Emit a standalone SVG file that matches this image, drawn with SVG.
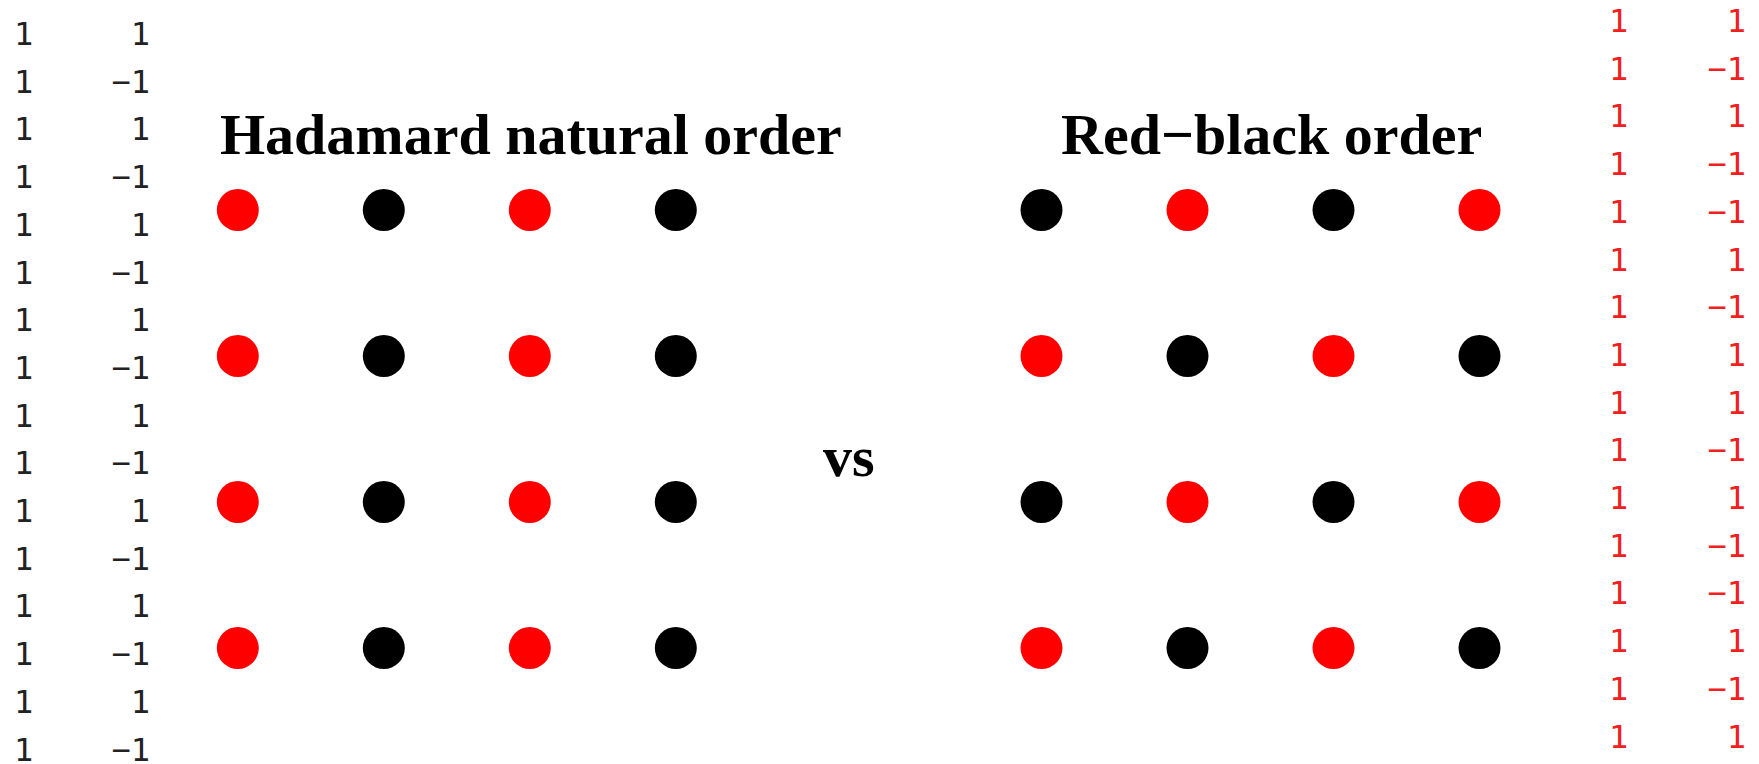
<svg xmlns="http://www.w3.org/2000/svg" width="1759" height="764" viewBox="0 0 1759 764">
<style>
.num{font-family:"DejaVu Sans Mono","Liberation Mono",monospace;font-size:32px;fill:#222;}
.rnum{font-family:"DejaVu Sans Mono","Liberation Mono",monospace;font-size:32px;fill:#f02020;}
.c{text-anchor:middle}
.e{text-anchor:end}
.title{font-family:"Liberation Serif","Times New Roman",serif;font-weight:bold;font-size:58px;fill:#000;}
.r{fill:#ff0000}
.k{fill:#000}
</style>
<rect width="1759" height="764" fill="#fff"/>
<g id="left-matrix">
<text class="num c" x="23.7" y="45">1</text><text class="num e" x="150" y="45">1</text>
<text class="num c" x="23.7" y="92.7">1</text><text class="num e" x="150" y="92.7">−1</text>
<text class="num c" x="23.7" y="140.4">1</text><text class="num e" x="150" y="140.4">1</text>
<text class="num c" x="23.7" y="188.1">1</text><text class="num e" x="150" y="188.1">−1</text>
<text class="num c" x="23.7" y="235.8">1</text><text class="num e" x="150" y="235.8">1</text>
<text class="num c" x="23.7" y="283.5">1</text><text class="num e" x="150" y="283.5">−1</text>
<text class="num c" x="23.7" y="331.2">1</text><text class="num e" x="150" y="331.2">1</text>
<text class="num c" x="23.7" y="378.9">1</text><text class="num e" x="150" y="378.9">−1</text>
<text class="num c" x="23.7" y="426.6">1</text><text class="num e" x="150" y="426.6">1</text>
<text class="num c" x="23.7" y="474.3">1</text><text class="num e" x="150" y="474.3">−1</text>
<text class="num c" x="23.7" y="522">1</text><text class="num e" x="150" y="522">1</text>
<text class="num c" x="23.7" y="569.7">1</text><text class="num e" x="150" y="569.7">−1</text>
<text class="num c" x="23.7" y="617.4">1</text><text class="num e" x="150" y="617.4">1</text>
<text class="num c" x="23.7" y="665.1">1</text><text class="num e" x="150" y="665.1">−1</text>
<text class="num c" x="23.7" y="712.8">1</text><text class="num e" x="150" y="712.8">1</text>
<text class="num c" x="23.7" y="760.5">1</text><text class="num e" x="150" y="760.5">−1</text>
</g>
<g id="right-matrix">
<text class="rnum c" x="1618.7" y="32">1</text><text class="rnum e" x="1746" y="32">1</text>
<text class="rnum c" x="1618.7" y="79.7">1</text><text class="rnum e" x="1746" y="79.7">−1</text>
<text class="rnum c" x="1618.7" y="127.4">1</text><text class="rnum e" x="1746" y="127.4">1</text>
<text class="rnum c" x="1618.7" y="175.1">1</text><text class="rnum e" x="1746" y="175.1">−1</text>
<text class="rnum c" x="1618.7" y="222.8">1</text><text class="rnum e" x="1746" y="222.8">−1</text>
<text class="rnum c" x="1618.7" y="270.5">1</text><text class="rnum e" x="1746" y="270.5">1</text>
<text class="rnum c" x="1618.7" y="318.2">1</text><text class="rnum e" x="1746" y="318.2">−1</text>
<text class="rnum c" x="1618.7" y="365.9">1</text><text class="rnum e" x="1746" y="365.9">1</text>
<text class="rnum c" x="1618.7" y="413.6">1</text><text class="rnum e" x="1746" y="413.6">1</text>
<text class="rnum c" x="1618.7" y="461.3">1</text><text class="rnum e" x="1746" y="461.3">−1</text>
<text class="rnum c" x="1618.7" y="509">1</text><text class="rnum e" x="1746" y="509">1</text>
<text class="rnum c" x="1618.7" y="556.7">1</text><text class="rnum e" x="1746" y="556.7">−1</text>
<text class="rnum c" x="1618.7" y="604.4">1</text><text class="rnum e" x="1746" y="604.4">−1</text>
<text class="rnum c" x="1618.7" y="652.1">1</text><text class="rnum e" x="1746" y="652.1">1</text>
<text class="rnum c" x="1618.7" y="699.8">1</text><text class="rnum e" x="1746" y="699.8">−1</text>
<text class="rnum c" x="1618.7" y="747.5">1</text><text class="rnum e" x="1746" y="747.5">1</text>
</g>
<g id="titles">
<text class="title" x="220" y="154">Hadamard natural order</text>
<text class="title" x="1061" y="154">Red−black order</text>
<text class="title" x="823" y="476">vs</text>
</g>
<g id="hadamard-grid">
<circle class="r" cx="237.8" cy="210" r="21"/><circle class="k" cx="383.8" cy="210" r="21"/><circle class="r" cx="529.8" cy="210" r="21"/><circle class="k" cx="675.8" cy="210" r="21"/>
<circle class="r" cx="237.8" cy="356" r="21"/><circle class="k" cx="383.8" cy="356" r="21"/><circle class="r" cx="529.8" cy="356" r="21"/><circle class="k" cx="675.8" cy="356" r="21"/>
<circle class="r" cx="237.8" cy="502" r="21"/><circle class="k" cx="383.8" cy="502" r="21"/><circle class="r" cx="529.8" cy="502" r="21"/><circle class="k" cx="675.8" cy="502" r="21"/>
<circle class="r" cx="237.8" cy="648" r="21"/><circle class="k" cx="383.8" cy="648" r="21"/><circle class="r" cx="529.8" cy="648" r="21"/><circle class="k" cx="675.8" cy="648" r="21"/>
</g>
<g id="redblack-grid">
<circle class="k" cx="1041.5" cy="210" r="21"/><circle class="r" cx="1187.5" cy="210" r="21"/><circle class="k" cx="1333.5" cy="210" r="21"/><circle class="r" cx="1479.5" cy="210" r="21"/>
<circle class="r" cx="1041.5" cy="356" r="21"/><circle class="k" cx="1187.5" cy="356" r="21"/><circle class="r" cx="1333.5" cy="356" r="21"/><circle class="k" cx="1479.5" cy="356" r="21"/>
<circle class="k" cx="1041.5" cy="502" r="21"/><circle class="r" cx="1187.5" cy="502" r="21"/><circle class="k" cx="1333.5" cy="502" r="21"/><circle class="r" cx="1479.5" cy="502" r="21"/>
<circle class="r" cx="1041.5" cy="648" r="21"/><circle class="k" cx="1187.5" cy="648" r="21"/><circle class="r" cx="1333.5" cy="648" r="21"/><circle class="k" cx="1479.5" cy="648" r="21"/>
</g>
</svg>
